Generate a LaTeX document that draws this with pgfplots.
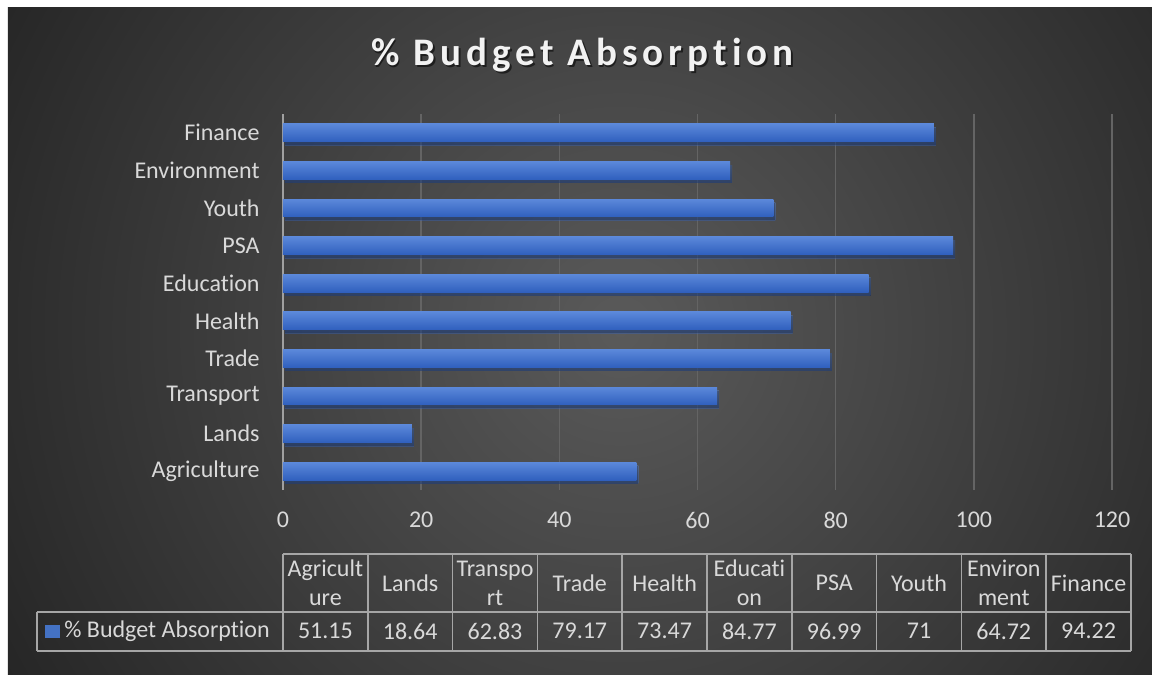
\documentclass[border=0pt]{standalone}
\usepackage{pgfplots}
\pgfplotsset{compat=1.18}
\usepackage{fontspec}
\setmainfont{Carlito}[Ligatures={NoCommon}]
\usetikzlibrary{shadows}
\definecolor{txt}{HTML}{D9D9D9}
\definecolor{gridc}{HTML}{646464}
\definecolor{axc}{HTML}{A0A0A0}
\definecolor{barTop}{HTML}{5B88DA}
\definecolor{barBot}{HTML}{3060BE}
\definecolor{tabline}{HTML}{A6A6A6}
\definecolor{bgin}{HTML}{5A5A5A}
\definecolor{bgout}{HTML}{1C1C1C}
\begin{document}
\begin{tikzpicture}
% background (pixel coordinates)
\begin{scope}[shift={(-141.5pt,245pt)}, x=0.5pt, y=-0.5pt]
\fill[white] (0,0) rectangle (1152,675);
\begin{scope}
\clip (8,8) rectangle (1152,675);
\shade[inner color=bgin, outer color=bgout] (620,330) circle (420pt);
\end{scope}
\end{scope}
\begin{axis}[
  at={(0,0)}, anchor=south west,
  scale only axis, width=414.5pt, height=188pt,
  xbar, xmin=0, xmax=120, ymin=-0.5, ymax=9.5,
  bar width=0.47, bar shift=0pt,
  xtick={0,20,...,120},
  ytick={0,...,9},
  yticklabels={Agriculture,Lands,Transport,Trade,Health,Education,PSA,Youth,Environment,Finance},
  axis x line*=bottom, axis y line*=left,
  x axis line style={draw=none},
  y axis line style={draw=axc, line width=0.8pt, -},
  xmajorgrids, major grid style={gridc, line width=0.8pt},
  major tick length=0pt,
  /pgf/number format/assume math mode=true,
  tick label style={font=\fontsize{12}{14}\selectfont, text=txt},
  xticklabel style={anchor=center, yshift=-15pt},
  yticklabel style={anchor=east, inner sep=0pt, xshift=-11.5pt},
  clip=false,
  barsty/.style={draw=none, top color=barTop, bottom color=barBot,
    drop shadow={shadow xshift=1pt, shadow yshift=-1.8pt, opacity=0.4, fill=black}},
]
\addplot[barsty] coordinates {(51.15,0)};
\addplot[barsty] coordinates {(18.64,1)};
\addplot[barsty] coordinates {(62.83,2)};
\addplot[barsty] coordinates {(79.17,3)};
\addplot[barsty] coordinates {(73.47,4)};
\addplot[barsty] coordinates {(84.77,5)};
\addplot[barsty] coordinates {(96.99,6)};
\addplot[barsty] coordinates {(71,7)};
\addplot[barsty] coordinates {(64.72,8)};
\addplot[barsty] coordinates {(94.22,9)};
\end{axis}
% title and table (pixel coordinates)
\begin{scope}[shift={(-141.5pt,245pt)}, x=0.5pt, y=-0.5pt]
\node[anchor=base, text=black, opacity=0.55, font=\fontsize{19.5}{23}\selectfont\bfseries\addfontfeatures{LetterSpace=13}] at (584,68) {\% Budget Absorption};
\node[anchor=base, text=white!95!black, font=\fontsize{19.5}{23}\selectfont\bfseries\addfontfeatures{LetterSpace=13}] at (582.5,66) {\% Budget Absorption};
% table lines
\draw[tabline, line width=0.75pt] (283,554) -- (1131,554);
\draw[tabline, line width=0.75pt] (37,612) -- (1131,612);
\draw[tabline, line width=0.75pt] (37,651) -- (1131,651);
\draw[tabline, line width=0.75pt] (37,612) -- (37,651);
\foreach \k in {0,...,10} {
  \draw[tabline, line width=0.75pt] ({283+84.8*\k},554) -- ({283+84.8*\k},651);
}
\fill[color={rgb,255:red,68;green,114;blue,196}] (45,625) rectangle (60,638);
\node[anchor=west, inner sep=0pt, text=txt, font=\fontsize{12}{14.5}\selectfont] at (64,631) {\% Budget Absorption};
\foreach \i/\h/\v in {0/{Agricult\\ure}/51.15, 1/Lands/18.64, 2/{Transpo\\rt}/62.83, 3/Trade/79.17, 4/Health/73.47, 5/{Educati\\on}/84.77, 6/PSA/96.99, 7/Youth/71, 8/{Environ\\ment}/64.72, 9/Finance/94.22} {
  \node[align=center, inner sep=0pt, text=txt, font=\fontsize{12}{14.5}\selectfont] at ({283+84.8*(\i+0.5)},583) {\h};
  \node[inner sep=0pt, text=txt, font=\fontsize{12}{14.5}\selectfont] at ({283+84.8*(\i+0.5)},631) {\v};
}
\end{scope}
\end{tikzpicture}
\end{document}
